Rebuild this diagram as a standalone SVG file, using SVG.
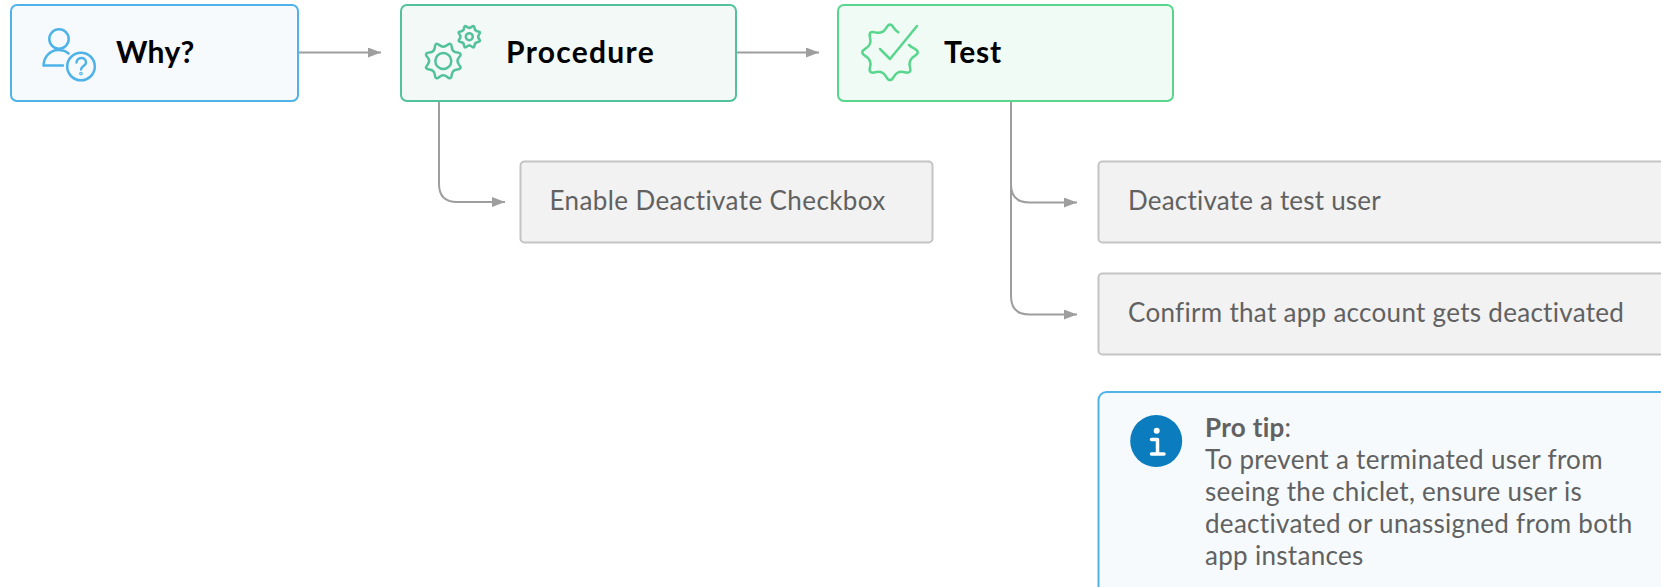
<svg xmlns="http://www.w3.org/2000/svg" width="1661" height="587" viewBox="0 0 1661 587">
<style>
.box{stroke-width:2}
.head{font:700 30px Lato,"Open Sans",sans-serif;fill:#000;letter-spacing:.8px}
.gray{fill:#f2f2f2;stroke:#c4c4c4;stroke-width:2}
.t{font:400 26px Lato,"Open Sans",sans-serif;fill:#616161;letter-spacing:.3px}
.ic{fill:none;stroke-width:2.5;stroke-linecap:round;stroke-linejoin:round}
.c{fill:none;stroke:#9e9e9e;stroke-width:2}
</style>
<defs>
<marker id="a" markerUnits="userSpaceOnUse" markerWidth="13" markerHeight="10" refX="13" refY="5" orient="auto"><path d="M0 0L13 5L0 10Z" fill="#9e9e9e"/></marker>
<g id="gear"><path d="M447.300 45.050Q451.300 41.600 451.700 46.900Q452.100 52.200 457.400 52.600Q462.700 53 459.250 57Q455.800 61 459.250 65Q462.700 69 457.400 69.400Q452.100 69.800 451.700 75.100Q451.300 80.400 447.300 76.950Q443.300 73.500 439.300 76.950Q435.300 80.400 434.900 75.100Q434.500 69.800 429.200 69.400Q423.900 69 427.350 65Q430.800 61 427.350 57Q423.900 53 429.200 52.600Q434.500 52.200 434.900 46.900Q435.300 41.600 439.300 45.050Q443.300 48.500 447.300 45.050Z"/></g>
</defs>
<g id="connectors">
<path class="c" marker-end="url(#a)" d="M298 52.500H381"/>
<path class="c" marker-end="url(#a)" d="M736 52.500H819"/>
<path class="c" marker-end="url(#a)" d="M439 101V184Q439 202 457 202H505"/>
<path class="c" marker-end="url(#a)" d="M1011 101V184Q1011 202.500 1029 202.500H1077"/>
<path class="c" marker-end="url(#a)" d="M1011 184V296Q1011 314.500 1029 314.500H1077"/>
</g>
<g id="why">
<rect class="box" x="11" y="5" width="287" height="96" rx="6" fill="#f6fafd" stroke="#4fb3e8"/>
<g class="ic" stroke="#4fb3e8"><circle cx="59" cy="39" r="9.700"/><path d="M43.500 65.500C44 56 51 50 58 50C62 50 66 51 68.500 53.500M43.500 65.500H63"/><circle cx="81" cy="66.500" r="13.800"/><path d="M76.500 62.500C77 56.500 86 56.500 86 62.500C86 66 81 66 81 69.500"/><circle cx="81" cy="73.500" r=".6"/></g>
<text class="head" x="116" y="62.500" style="letter-spacing:.3px">Why?</text>
</g>
<g id="procedure">
<rect class="box" x="401" y="5" width="335" height="96" rx="6" fill="#f3f9f7" stroke="#53c29b"/>
<g class="ic" stroke="#53c29b"><circle cx="443.300" cy="61" r="8"/><use href="#gear"/><circle cx="469.300" cy="36.700" r="3.500"/><use href="#gear" transform="translate(469.300 36.700) scale(.62) translate(-443.300 -61)" stroke-width="4"/></g>
<text class="head" x="506" y="62.500" style="letter-spacing:1.3px">Procedure</text>
</g>
<g id="test">
<rect class="box" x="838" y="5" width="335" height="96" rx="6" fill="#f1fbf5" stroke="#58d68d"/>
<g class="ic" stroke="#58d68d"><path d="M898.300 32.200Q895 30 893.750 27.800Q890 21.300 886.250 27.800Q882.500 34.300 875.300 32.350Q868.100 30.400 870.050 37.600Q872 44.800 865.500 48.550Q859 52.300 865.500 56.050Q872 59.800 870.050 67Q868.100 74.200 875.300 72.250Q882.500 70.300 886.250 76.800Q890 83.300 893.750 76.800Q897.500 70.300 904.700 72.250Q911.900 74.200 909.950 67Q908 59.800 914.500 56.050Q921 52.300 914.500 48.550Q911 47 909 45"/><path d="M880 49L890 59L917 26"/></g>
<text class="head" x="944" y="62.500">Test</text>
</g>
<g id="enable"><rect class="gray" x="520.500" y="161.500" width="412" height="81" rx="4"/><text class="t" x="549.500" y="210" style="letter-spacing:.4px">Enable Deactivate Checkbox</text></g>
<g id="deactivate"><rect class="gray" x="1098.500" y="161.500" width="600" height="81" rx="4"/><text class="t" x="1128" y="210" style="letter-spacing:.2px">Deactivate a test user</text></g>
<g id="confirm"><rect class="gray" x="1098.500" y="273.500" width="600" height="81" rx="4"/><text class="t" x="1128" y="322">Confirm that app account gets deactivated</text></g>
<g id="tip">
<rect x="1098.500" y="392" width="600" height="240" rx="8" fill="#f6fafd" stroke="#4fb3e8" stroke-width="2"/>
<circle cx="1156.200" cy="441" r="26" fill="#0b7dbf"/>
<circle cx="1156.700" cy="430.700" r="3" fill="#fff"/>
<path d="M1151.500 439.500H1157.500V454M1151.500 454H1164" fill="none" stroke="#fff" stroke-width="3.500" stroke-linecap="round" stroke-linejoin="round"/>
<text class="t"><tspan x="1205" y="437" font-weight="700">Pro tip</tspan><tspan>:</tspan><tspan x="1205" y="469">To prevent a terminated user from</tspan><tspan x="1205" y="501">seeing the chiclet, ensure user is</tspan><tspan x="1205" y="533">deactivated or unassigned from both</tspan><tspan x="1205" y="565">app instances</tspan></text>
</g>
</svg>
